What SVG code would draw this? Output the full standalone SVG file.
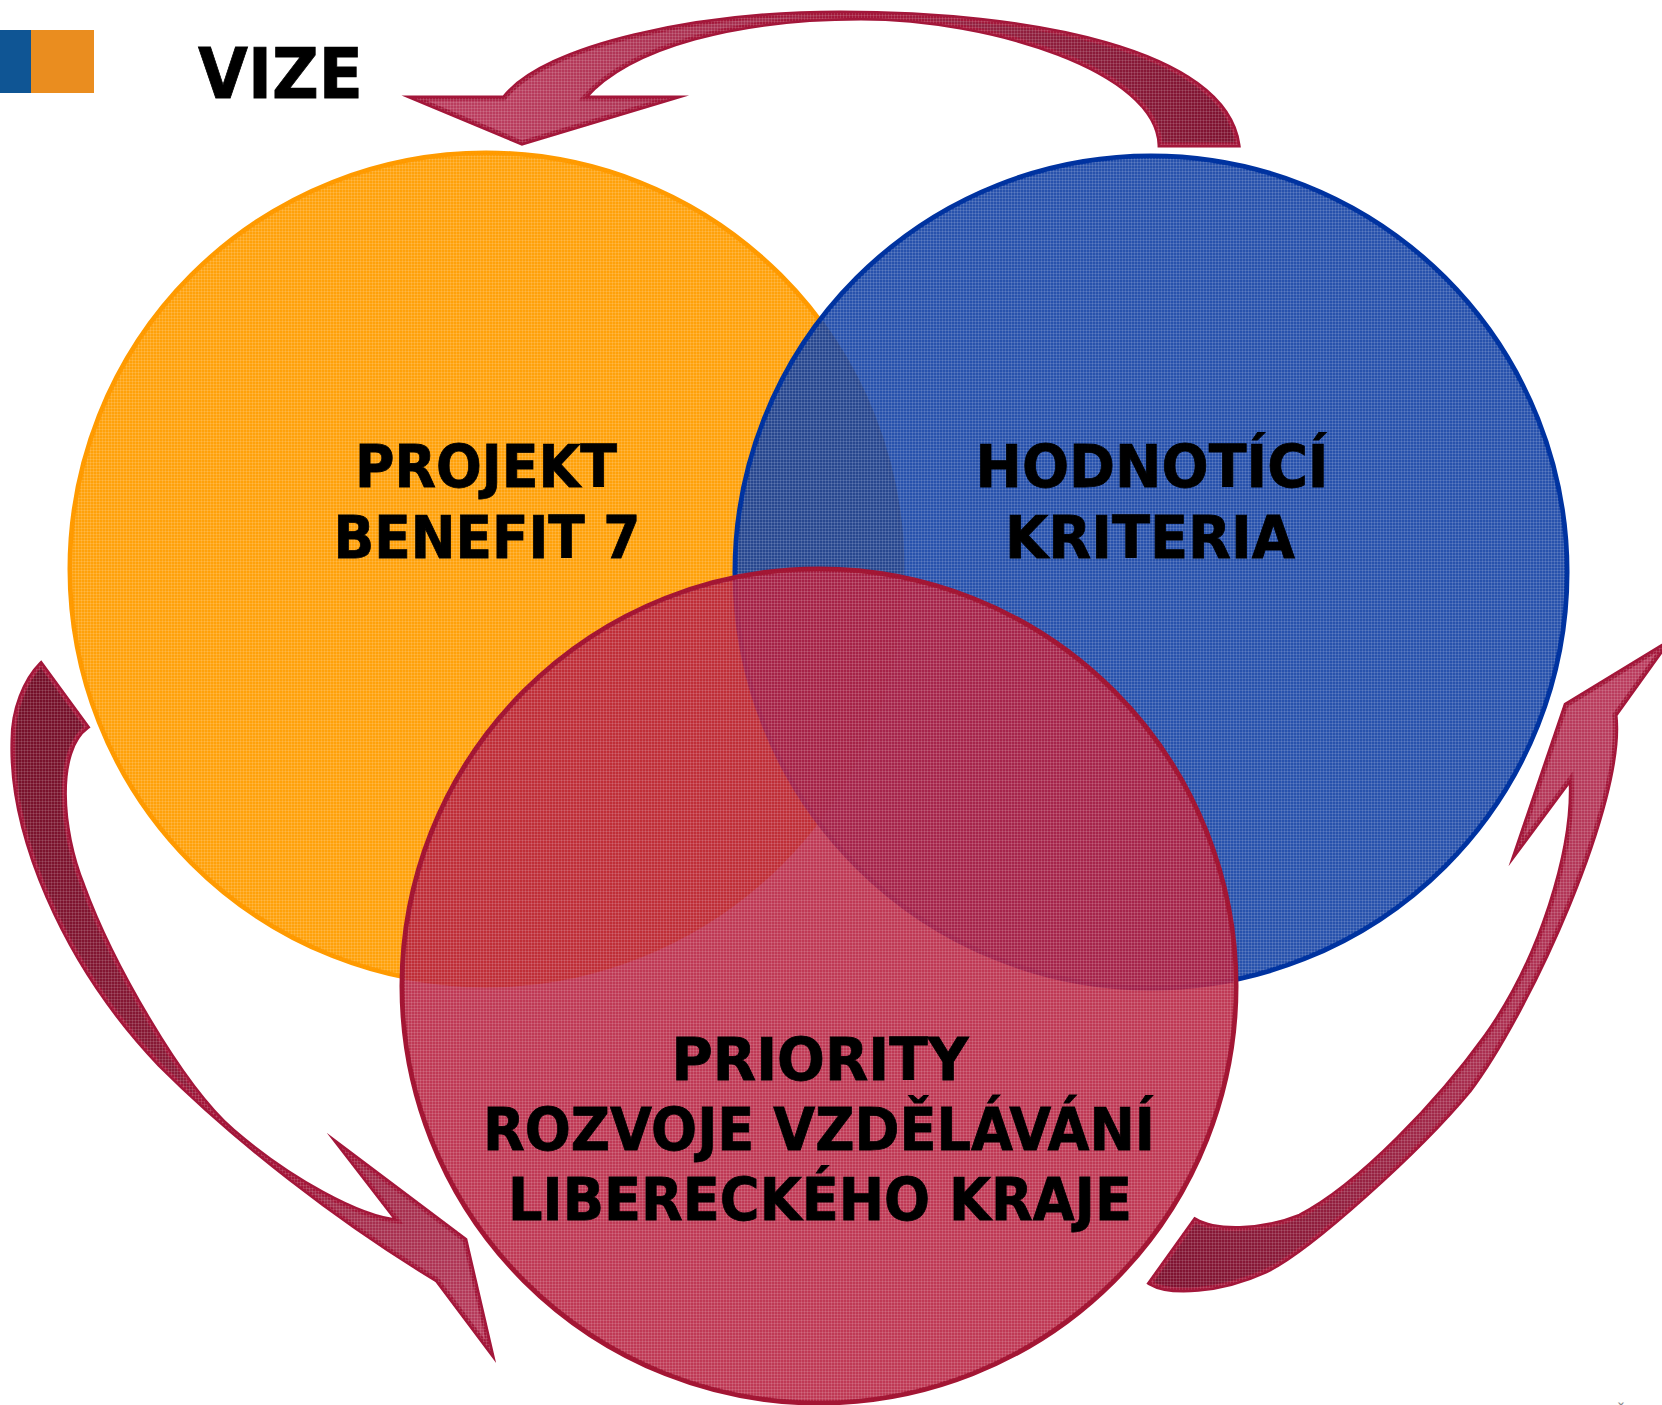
<svg xmlns="http://www.w3.org/2000/svg" width="1662" height="1405" viewBox="0 0 1662 1405">
<defs>
<style>
.lbl{font-family:"DejaVu Sans","Liberation Sans",sans-serif;font-weight:bold;font-size:58px;fill:#000;stroke:#000;stroke-width:0.8;text-anchor:middle}
.title{font-family:"DejaVu Sans","Liberation Sans",sans-serif;font-weight:bold;font-size:70px;fill:#000;stroke:#000;stroke-width:0.8}
.arrow{stroke:#A3173A;stroke-width:5;stroke-linejoin:miter;stroke-miterlimit:8}
.grid{fill:url(#grid);stroke:none}
</style>
<pattern id="grid" width="3" height="3" patternUnits="userSpaceOnUse">
<rect width="3" height="1" fill="#fff" fill-opacity="0.13"/>
<rect width="1" height="3" fill="#fff" fill-opacity="0.13"/>
</pattern>
<linearGradient id="gTop" gradientUnits="userSpaceOnUse" x1="1238" y1="100" x2="500" y2="100">
<stop offset="0" stop-color="#7E1230"/><stop offset="1" stop-color="#BA3D5E"/>
</linearGradient>
<linearGradient id="gLeft" gradientUnits="userSpaceOnUse" x1="40" y1="680" x2="490" y2="1350">
<stop offset="0" stop-color="#741029"/><stop offset="0.45" stop-color="#861834"/><stop offset="1" stop-color="#BA3D5E"/>
</linearGradient>
<linearGradient id="gRight" gradientUnits="userSpaceOnUse" x1="1160" y1="1280" x2="1620" y2="700">
<stop offset="0" stop-color="#7E1230"/><stop offset="0.5" stop-color="#AA2F50"/><stop offset="1" stop-color="#BA3D5E"/>
</linearGradient>
</defs>
<rect width="1662" height="1405" fill="#fff"/>

<g id="logo">
<rect x="0" y="30" width="31" height="63" fill="#0F5594"/>
<rect x="31" y="30" width="63" height="63" fill="#EA8D1F"/>
</g>
<g id="title">
<text class="title" x="198" y="98" textLength="165" lengthAdjust="spacingAndGlyphs">VIZE</text>
</g>

<g id="node-projekt">
<circle cx="486" cy="569" r="416" fill="#FFA10A" stroke="#FF9A00" stroke-width="5"/>
<circle class="grid" cx="486" cy="569" r="414"/>
</g>
<g id="node-hodnotici">
<circle cx="1151" cy="572" r="416" fill="#0A3AA0" fill-opacity="0.88" stroke="#0033A0" stroke-width="5"/>
<circle class="grid" cx="1151" cy="572" r="414"/>
</g>
<g id="node-priority">
<circle cx="819" cy="986" r="417" fill="#B61E3E" fill-opacity="0.88" stroke="#A31634" stroke-width="5"/>
<circle class="grid" cx="819" cy="986" r="415"/>
</g>

<g id="connectors">
<g id="arrow-top">
<path class="arrow" fill="url(#gTop)" d="M504,98 C545,45 700,13 840,13 C1030,13 1225,50 1238,145 L1160,145 C1158,70 990,18 861,18 C740,18 630,45 584,98 L672,98 L522,143 L414,98 Z"/>
<path class="grid" d="M504,98 C545,45 700,13 840,13 C1030,13 1225,50 1238,145 L1160,145 C1158,70 990,18 861,18 C740,18 630,45 584,98 L672,98 L522,143 L414,98 Z"/>
</g>
<g id="arrow-left">
<path class="arrow" fill="url(#gLeft)" d="M41,664 C25,680 13,710 13,740 C10,830 60,960 160,1065 C235,1140 340,1222 437,1280 L491,1352 L465,1240 L340,1146 L398,1221 C360,1218 290,1180 233,1131 C180,1085 110,960 83,886 C60,830 55,750 87,727 Z"/>
<path class="grid" d="M41,664 C25,680 13,710 13,740 C10,830 60,960 160,1065 C235,1140 340,1222 437,1280 L491,1352 L465,1240 L340,1146 L398,1221 C360,1218 290,1180 233,1131 C180,1085 110,960 83,886 C60,830 55,750 87,727 Z"/>
</g>
<g id="arrow-right">
<path class="arrow" fill="url(#gRight)" d="M1150,1283 C1170,1295 1220,1292 1266,1271 C1310,1250 1420,1150 1469,1091 C1530,1010 1625,800 1615,715 L1666,644 L1566,705 L1516,852 L1571,778 C1575,850 1540,960 1486,1036 C1440,1100 1360,1185 1300,1216 C1260,1232 1215,1232 1195,1220 Z"/>
<path class="grid" d="M1150,1283 C1170,1295 1220,1292 1266,1271 C1310,1250 1420,1150 1469,1091 C1530,1010 1625,800 1615,715 L1666,644 L1566,705 L1516,852 L1571,778 C1575,850 1540,960 1486,1036 C1440,1100 1360,1185 1300,1216 C1260,1232 1215,1232 1195,1220 Z"/>
</g>
</g>

<g id="labels">
<text class="lbl" x="486" y="487" textLength="262" lengthAdjust="spacingAndGlyphs">PROJEKT</text>
<text class="lbl" x="487" y="558" textLength="307" lengthAdjust="spacingAndGlyphs">BENEFIT 7</text>
<text class="lbl" x="1152" y="487" textLength="353" lengthAdjust="spacingAndGlyphs">HODNOTÍCÍ</text>
<text class="lbl" x="1150" y="558" textLength="290" lengthAdjust="spacingAndGlyphs">KRITERIA</text>
<text class="lbl" x="820" y="1080" textLength="297" lengthAdjust="spacingAndGlyphs">PRIORITY</text>
<text class="lbl" x="819" y="1150" textLength="672" lengthAdjust="spacingAndGlyphs">ROZVOJE VZDĚLÁVÁNÍ</text>
<text class="lbl" x="820" y="1220" textLength="624" lengthAdjust="spacingAndGlyphs">LIBERECKÉHO KRAJE</text>
</g>
<text x="1620" y="1421" font-family="DejaVu Sans, sans-serif" font-size="20" fill="#8A8A8A" text-anchor="middle">Č</text>
</svg>
